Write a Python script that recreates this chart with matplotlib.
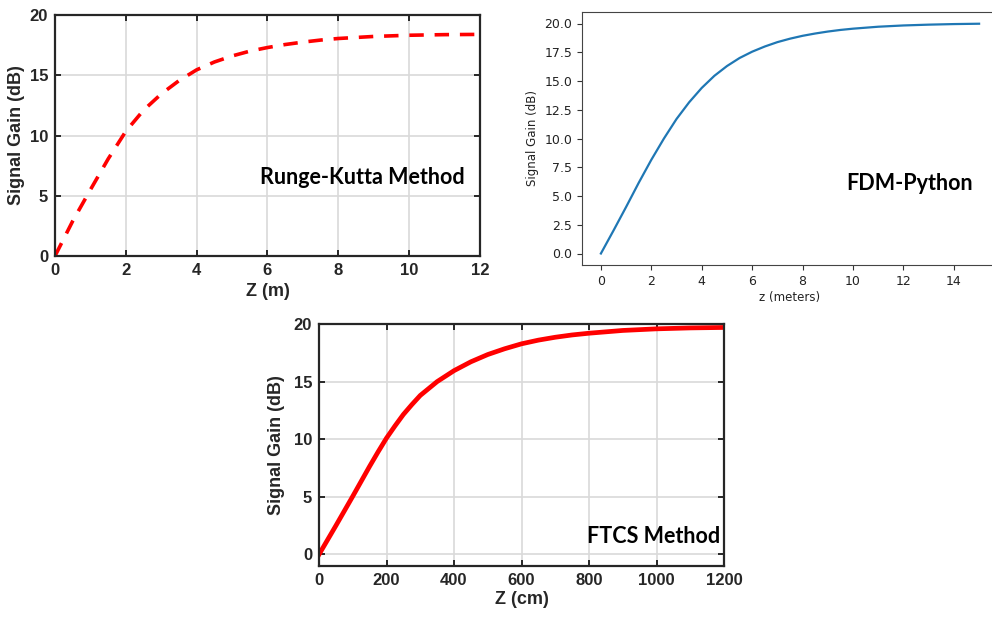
import numpy as np
import matplotlib.pyplot as plt

# Runge-Kutta solution (MATLAB export)
rk_z = [0, 0.5, 1, 1.5, 2, 2.5, 3, 3.5, 4, 4.5, 5, 5.5, 6, 6.5, 7, 7.5, 8,
        9, 10, 11, 12]
rk_gain = [0, 2.9, 5.5, 8.05, 10.35, 12.1, 13.45, 14.55, 15.45, 16.1, 16.6,
           17.0, 17.3, 17.55, 17.75, 17.92, 18.05, 18.22, 18.32, 18.37, 18.39]

# FDM solution (python)
fdm_z = [0, 0.5, 1, 1.5, 2, 2.5, 3, 3.5, 4, 4.5, 5, 5.5, 6, 6.5, 7, 7.5, 8,
         8.5, 9, 9.5, 10, 11, 12, 13, 14, 15]
fdm_gain = [0, 2.0, 4.05, 6.15, 8.15, 10.0, 11.7, 13.15, 14.4, 15.45, 16.3,
            17.0, 17.55, 18.0, 18.38, 18.68, 18.93, 19.13, 19.3, 19.44, 19.55,
            19.72, 19.83, 19.9, 19.95, 19.98]

# FTCS solution (MATLAB export)
ftcs_z = [0, 50, 100, 150, 175, 200, 225, 250, 275, 300, 350, 400, 450, 500,
          550, 600, 650, 700, 750, 800, 900, 1000, 1100, 1200]
ftcs_gain = [0, 2.5, 5.05, 7.65, 8.9, 10.1, 11.15, 12.15, 13.0, 13.8, 15.0,
             15.95, 16.72, 17.35, 17.85, 18.28, 18.6, 18.85, 19.05, 19.2,
             19.44, 19.58, 19.66, 19.7]

W, H = 992, 624
fig = plt.figure(figsize=(W / 100, H / 100), dpi=100)


def box(l, t, r, b):
    return [l / W, 1 - b / H, (r - l) / W, (b - t) / H]


def matlab_axes(ax, xticks, yticks):
    for s in ax.spines.values():
        s.set_color('#262626')
        s.set_linewidth(1.6)
    ax.set_xticks(xticks)
    ax.set_yticks(yticks)
    ax.tick_params(direction='in', length=4, width=1.4, color='#262626',
                   top=True, right=True, labelsize=12, labelcolor='#262626',
                   pad=5)
    for lab in ax.get_xticklabels() + ax.get_yticklabels():
        lab.set_fontweight('bold')
    ax.grid(True, color='#d9d9d9', linewidth=1.2)
    ax.set_axisbelow(True)


tag_font = dict(family='Lato', fontweight='bold', fontsize=15.5, color='black')
lab_font = dict(family='Liberation Sans', fontweight='bold', fontsize=13,
                color='#262626')

plt.rcParams['font.family'] = 'Liberation Sans'

# top-left: Runge-Kutta
ax1 = fig.add_axes(box(55, 15, 480, 256))
ax1.plot(rk_z, rk_gain, color='red', lw=2.6, ls=(0, (4, 3)))
ax1.set_xlim(0, 12)
ax1.set_ylim(0, 20)
matlab_axes(ax1, range(0, 13, 2), range(0, 21, 5))
ax1.set_xlabel('Z (m)', labelpad=4, **lab_font)
ax1.set_ylabel('Signal Gain (dB)', labelpad=3, **lab_font)
ax1.text(0.965, 0.324, 'Runge-Kutta Method', transform=ax1.transAxes,
         ha='right', va='center', **tag_font)

# bottom-middle: FTCS
ax3 = fig.add_axes(box(319, 324, 724, 566))
ax3.plot(ftcs_z, ftcs_gain, color='red', lw=3.4)
ax3.set_xlim(0, 1200)
ax3.set_ylim(-1, 20)
matlab_axes(ax3, range(0, 1201, 200), range(0, 21, 5))
ax3.set_xlabel('Z (cm)', labelpad=2, **lab_font)
ax3.set_ylabel('Signal Gain (dB)', labelpad=6, **lab_font)
ax3.text(0.99, 0.123, 'FTCS Method', transform=ax3.transAxes,
         ha='right', va='center', **tag_font)

# top-right: FDM (default matplotlib look)
ax2 = fig.add_axes(box(582, 12, 998, 265))
ax2.plot(fdm_z, fdm_gain, color='#1f77b4', lw=1.6)
ax2.set_xlim(-0.75, 15.75)
ax2.set_ylim(-1, 21)
ax2.set_xticks(range(0, 15, 2))
ax2.set_yticks(np.arange(0, 20.1, 2.5))
ax2.yaxis.set_major_formatter('{x:.1f}')
for s in ax2.spines.values():
    s.set_color('#444444')
ax2.tick_params(labelsize=9, colors='#333333', labelcolor='#222222')
for lab in ax2.get_xticklabels() + ax2.get_yticklabels():
    lab.set_family('DejaVu Sans')
ax2.set_xlabel('z (meters)', family='DejaVu Sans', fontsize=8.5,
               color='#222222', labelpad=2)
ax2.set_ylabel('Signal Gain (dB)', family='DejaVu Sans', fontsize=8.5,
               color='#222222')
ax2.text(0.939, 0.324, 'FDM-Python', transform=ax2.transAxes,
         ha='right', va='center', **tag_font)

fig.savefig('out.png', dpi=100)
